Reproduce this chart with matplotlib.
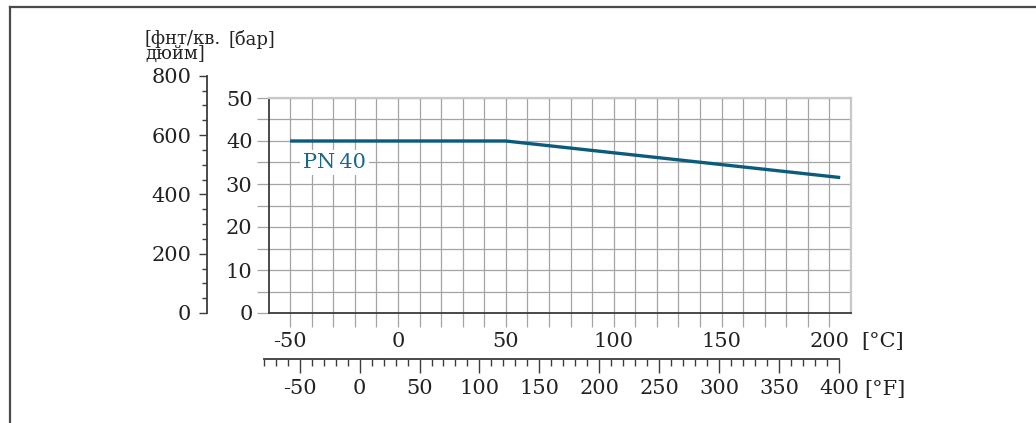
import matplotlib
matplotlib.use("Agg")
import matplotlib.pyplot as plt
import numpy as np
from matplotlib.ticker import FixedLocator
from matplotlib.lines import Line2D

# ---- data ----
temp_c = [-50, 50, 205]
pressure_bar = [40, 40, 31.5]
series_label = "PN\u200940"
c_ticks = [-50, 0, 50, 100, 150, 200]
bar_ticks = [0, 10, 20, 30, 40, 50]
psi_ticks = [0, 200, 400, 600, 800]
f_ticks = [-50, 0, 50, 100, 150, 200, 250, 300, 350, 400]
PSI_PER_BAR = 14.5038

plt.rcParams['font.family'] = ['DejaVu Serif']
plt.rcParams['axes.unicode_minus'] = False
TXT = '#222222'
DARK = '#3c3c3c'
GRID = '#a4a4a4'
LINE = '#0b5c7c'
FS = 15

W_PX, H_PX = 1036, 423
fig = plt.figure(figsize=(W_PX / 100, H_PX / 100), dpi=100)

def fx(px):
    return px / W_PX

def fy(py):
    return 1 - py / H_PX

# outer frame (left and top)
fig.add_artist(Line2D([fx(9.5), fx(9.5)], [0, fy(7)], color='#4a4a4a', lw=1.6))
fig.add_artist(Line2D([fx(9.5), 1], [fy(7), fy(7)], color='#4a4a4a', lw=1.6))

# main axes
L, R, T, B = fx(268.5), fx(851), fy(98), fy(313)
W, H = R - L, T - B
ax = fig.add_axes([L, B, W, H])
XMIN, XMAX = -60, 210
ax.set_xlim(XMIN, XMAX)
ax.set_ylim(0, 50)
ax.xaxis.set_major_locator(FixedLocator(c_ticks))
ax.xaxis.set_minor_locator(FixedLocator(np.arange(-50, 210, 10)))
ax.yaxis.set_major_locator(FixedLocator(bar_ticks))
ax.yaxis.set_minor_locator(FixedLocator(np.arange(5, 50, 5)))
ax.grid(which='both', color=GRID, lw=0.9, zorder=0)
ax.set_axisbelow(True)
for s in ['left', 'bottom']:
    ax.spines[s].set_color(DARK)
    ax.spines[s].set_linewidth(1.3)
for s in ['top', 'right']:
    ax.spines[s].set_color('#c8c8c8')
    ax.spines[s].set_linewidth(1.6)
ax.tick_params(axis='y', which='both', direction='out', length=8.5, width=0.9,
               color=GRID, labelsize=FS, labelcolor=TXT, pad=3)
ax.tick_params(axis='x', which='both', direction='out', length=10, width=0.9,
               color=GRID, labelsize=FS, labelcolor=TXT, pad=4)

ax.plot(temp_c, pressure_bar, color=LINE, lw=2.4, solid_capstyle='butt', zorder=3)
ax.text(-29.4, 35.0, series_label, color='#1a6788', fontsize=FS, ha='center',
        va='center', zorder=4,
        bbox=dict(facecolor='white', edgecolor='none', pad=2.0))

# psi axis
Hpsi = H * 800 / (50 * PSI_PER_BAR)
axp = fig.add_axes([fx(206.5), B, 0.0005, Hpsi])
axp.set_facecolor('none')
axp.set_ylim(0, 800)
axp.yaxis.set_major_locator(FixedLocator(psi_ticks))
axp.yaxis.set_minor_locator(FixedLocator(np.arange(50, 800, 50)))
for s in ['top', 'right', 'bottom']:
    axp.spines[s].set_visible(False)
axp.spines['left'].set_color(DARK)
axp.spines['left'].set_linewidth(1.3)
axp.set_xticks([])
axp.tick_params(axis='y', which='major', direction='out', length=6, width=1.0,
                color=DARK, labelsize=FS, labelcolor=TXT, pad=5)
axp.tick_params(axis='y', which='minor', direction='out', length=3.5, width=1.0,
                color=DARK)

# Fahrenheit axis
def c_from_f(f):
    return (f - 32) / 1.8

F0, F1 = -80, 400
fl = L + (c_from_f(F0) - XMIN) / (XMAX - XMIN) * W
fw = (c_from_f(F1) - c_from_f(F0)) / (XMAX - XMIN) * W
axf = fig.add_axes([fl, fy(359.3), fw, 0.0005])
axf.set_facecolor('none')
axf.set_xlim(F0, F1)
axf.set_yticks([])
for s in ['top', 'right', 'left']:
    axf.spines[s].set_visible(False)
axf.spines['bottom'].set_color(DARK)
axf.spines['bottom'].set_linewidth(1.3)
axf.xaxis.set_major_locator(FixedLocator(f_ticks))
axf.xaxis.set_minor_locator(FixedLocator(np.arange(-80, 401, 10)))
axf.tick_params(axis='x', which='major', direction='out', length=10, width=1.0,
                color=DARK, labelsize=FS, labelcolor=TXT, pad=4)
axf.tick_params(axis='x', which='minor', direction='out', length=5, width=1.0,
                color=DARK)

# unit labels
fig.text(fx(861), fy(342), '[°C]', fontsize=FS, color=TXT, ha='left', va='center')
fig.text(fx(864), fy(389), '[°F]', fontsize=FS, color=TXT, ha='left', va='center')
fig.text(fx(145), fy(30), '[фнт/кв.\nдюйм]', fontsize=13, color=TXT, ha='left',
         va='top', linespacing=0.75)
fig.text(fx(228), fy(30), '[бар]', fontsize=13, color=TXT, ha='left', va='top')

fig.savefig('out.png', dpi=100)
